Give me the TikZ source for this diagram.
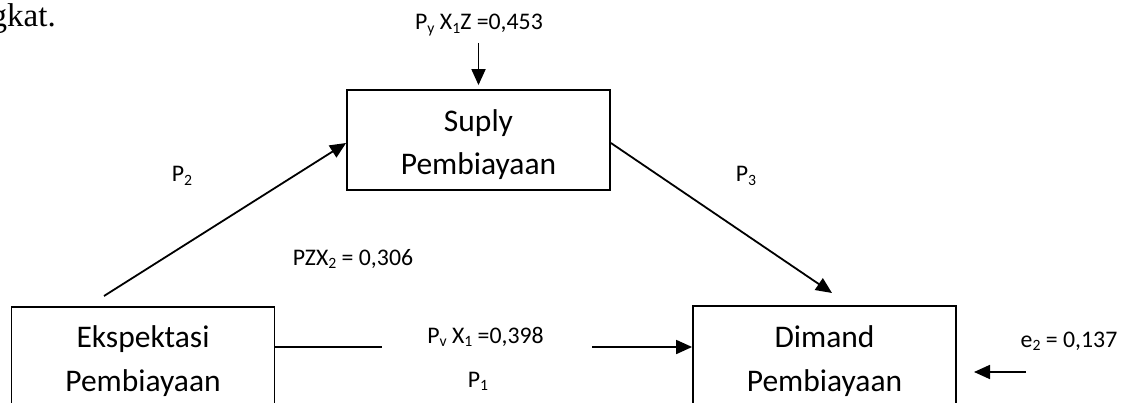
\documentclass[tikz,border=0pt]{standalone}
\usepackage{fontspec}
\setmainfont{Carlito}
\newfontfamily\serifdoc{Liberation Serif}
\usetikzlibrary{arrows.meta,calc}
\newcommand\sbs[1]{\raisebox{-0.13em}{\scalebox{0.66}{#1}}}
\begin{document}
\begin{tikzpicture}[x=1pt,y=-1pt,
  box/.style={draw,line width=1.8pt,minimum width=263pt,minimum height=100pt,inner sep=0pt},
  boxtxt/.style={anchor=base,inner sep=0pt,font=\fontsize{31.5}{38}\selectfont},
  lbl/.style={anchor=base,inner sep=0pt,font=\fontsize{23.8}{28}\selectfont},
  conn/.style={line width=1.8pt},
  arr/.style={conn,-{Triangle[length=16pt,width=14pt]}}]
\clip (0,0) rectangle (1131,403);
\fill[white] (0,0) rectangle (1131,403);
% boxes
\node[box] (sup) at (478.5,140) {};
\node[box] (eks) at (143,357) {};
\node[box] (dim) at (824.5,356) {};
% box texts
\node[boxtxt] (sup1) at ($(sup.north)+(0,42)$) {Suply};
\node[boxtxt] (sup2) at ($(sup.north)+(0,85)$) {Pembiayaan};
\node[boxtxt] (eks1) at ($(eks.north)+(0,41)$) {Ekspektasi};
\node[boxtxt] (eks2) at ($(eks.north)+(0,85)$) {Pembiayaan};
\node[boxtxt] (dim1) at ($(dim.north)+(0,42)$) {Dimand};
\node[boxtxt] (dim2) at ($(dim.north)+(0,86)$) {Pembiayaan};
% connectors
\coordinate (p2s) at (104,296);
\draw[arr] (p2s) -- ([yshift=-3pt]sup.west);
\coordinate (p3e) at (832,293);
\draw[arr] ([yshift=-3pt]sup.east) -- (p3e);
\coordinate (p1a) at (382,347);
\coordinate (p1b) at (592,347);
\draw[conn] (eks.east |- p1a) -- (p1a);
\draw[arr] (p1b) -- (p1b -| dim.west);
\coordinate (topa) at (478.5,43);
\draw[arr] (topa) -- ([yshift=4pt]sup.north);
\coordinate (e2a) at (1026,372);
\coordinate (e2b) at (974,372);
\draw[arr] (e2a) -- (e2b);
% labels
\node[lbl] (ltop) at (479,30) {P\sbs{y} X\sbs{1}Z =0,453};
\node[lbl] (lp2) at (182,182) {P\sbs{2}};
\node[lbl] (lp3) at (746,182) {P\sbs{3}};
\node[lbl] (lpzx) at (353,265) {PZX\sbs{2} = 0,306};
\node[lbl] (lpv) at (485.5,343) {P\sbs{v} X\sbs{1} =0,398};
\node[lbl] (lp1) at (478,387) {P\sbs{1}};
\node[lbl] (le2) at (1069,347) {e\sbs{2} = 0,137};
\node[anchor=base east,inner sep=0pt,font=\serifdoc\fontsize{33}{38}\selectfont] (gk) at (56,27) {gkat.};
\end{tikzpicture}
\end{document}
